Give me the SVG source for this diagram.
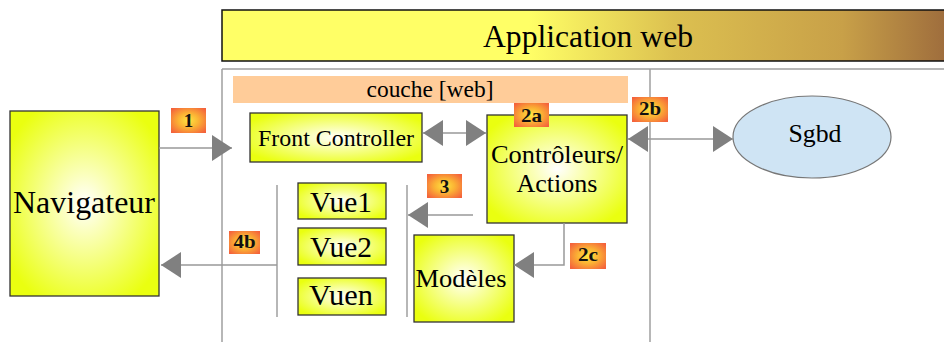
<svg xmlns="http://www.w3.org/2000/svg" width="944" height="342" viewBox="0 0 944 342">
<defs>
<radialGradient id="yel" cx="0.5" cy="0.5" r="0.6">
<stop offset="0" stop-color="#ffffff"/>
<stop offset="0.25" stop-color="#fbffc0"/>
<stop offset="1" stop-color="#eaff10"/>
</radialGradient>
<radialGradient id="org" cx="0.5" cy="0.5" r="0.65">
<stop offset="0" stop-color="#fee640"/>
<stop offset="0.45" stop-color="#fbb234"/>
<stop offset="1" stop-color="#f4623c"/>
</radialGradient>
<linearGradient id="title" x1="0" y1="0" x2="1" y2="0">
<stop offset="0" stop-color="#ffff66"/>
<stop offset="0.42" stop-color="#ffff66"/>
<stop offset="0.62" stop-color="#dcc050"/>
<stop offset="0.85" stop-color="#c8a048"/>
<stop offset="1" stop-color="#9c6a3c"/>
</linearGradient>
<marker id="ah" viewBox="0 0 20 26" refX="20" refY="13" markerWidth="20" markerHeight="26" markerUnits="userSpaceOnUse" orient="auto-start-reverse">
<path d="M0,0 L20,13 L0,26 Z" fill="#808080"/>
</marker>
<style>
.box{fill:url(#yel);stroke:#333;stroke-width:1.3}
.badge{fill:url(#org)}
text{font-family:"Liberation Serif","DejaVu Serif",serif}
.bt{fill:#111;text-anchor:middle}
.t{fill:#000;text-anchor:middle}
.ln{stroke:#a0a0a0;stroke-width:1.5;fill:none}
.cn{stroke:#999;stroke-width:1.5;fill:none}
</style>
</defs>
<rect width="944" height="342" fill="#fff"/>
<g id="title-bar">
<rect x="222" y="10" width="730" height="51" fill="url(#title)" stroke="#111" stroke-width="1.5"/>
<text class="t" x="588" y="47" font-size="32" textLength="210" lengthAdjust="spacingAndGlyphs">Application web</text>
</g>
<g id="frame">
<path class="ln" d="M222,69 H944 M222,69 V342 M650,69 V342"/>
<path class="ln" d="M277,185 V317 M407,185 V317"/>
</g>
<g id="couche">
<rect x="233" y="76" width="395" height="27" fill="#ffcc99"/>
<text class="t" x="430" y="97" font-size="23" textLength="127" lengthAdjust="spacingAndGlyphs">couche [web]</text>
</g>
<g id="navigateur">
<rect class="box" x="10" y="111" width="149" height="185"/>
<text class="t" x="84" y="213" font-size="32" textLength="142" lengthAdjust="spacingAndGlyphs">Navigateur</text>
</g>
<g id="front-controller">
<rect class="box" x="250" y="113" width="172" height="49"/>
<text class="t" x="336" y="146" font-size="24" textLength="156" lengthAdjust="spacingAndGlyphs">Front Controller</text>
</g>
<g id="controleurs">
<rect class="box" x="487" y="115" width="140" height="108"/>
<text class="t" x="557" y="163" font-size="26" textLength="132" lengthAdjust="spacingAndGlyphs">Contrôleurs/</text>
<text class="t" x="557" y="192" font-size="26" textLength="81" lengthAdjust="spacingAndGlyphs">Actions</text>
</g>
<g id="sgbd">
<ellipse cx="812" cy="137" rx="79" ry="41" fill="#cfe4f4" stroke="#777" stroke-width="1.2"/>
<text class="t" x="815" y="142" font-size="26" textLength="53" lengthAdjust="spacingAndGlyphs">Sgbd</text>
</g>
<g id="vue1">
<rect class="box" x="298" y="183" width="88" height="36"/>
<text class="t" x="341" y="212" font-size="29" textLength="62" lengthAdjust="spacingAndGlyphs">Vue1</text>
</g>
<g id="vue2">
<rect class="box" x="298" y="228" width="88" height="37"/>
<text class="t" x="341" y="257" font-size="29" textLength="62" lengthAdjust="spacingAndGlyphs">Vue2</text>
</g>
<g id="vuen">
<rect class="box" x="298" y="278" width="88" height="37"/>
<text class="t" x="341" y="305" font-size="29" textLength="64" lengthAdjust="spacingAndGlyphs">Vuen</text>
</g>
<g id="modeles">
<rect class="box" x="414" y="235" width="100" height="87"/>
<text class="t" x="461" y="287" font-size="26" textLength="91" lengthAdjust="spacingAndGlyphs">Modèles</text>
</g>
<g id="connectors">
<path class="cn" d="M159,148 H232" marker-end="url(#ah)"/>
<path class="cn" d="M423,133 H486" marker-start="url(#ah)" marker-end="url(#ah)"/>
<path class="cn" d="M628,139 H733" marker-start="url(#ah)" marker-end="url(#ah)"/>
<path class="cn" d="M473,215 H408" marker-end="url(#ah)"/>
<path class="cn" d="M564,223 V265 H514" marker-end="url(#ah)"/>
<path class="cn" d="M277,265 H161" marker-end="url(#ah)"/>
</g>
<g id="badges" font-size="19" font-weight="bold">
<g id="b1"><rect class="badge" x="171" y="108" width="35" height="25"/><text class="bt" x="188.5" y="127" font-size="19" font-weight="bold">1</text></g>
<g id="b2a"><rect class="badge" x="514" y="103" width="35" height="24"/><text class="bt" x="531.5" y="122" font-size="19" font-weight="bold" textLength="21" lengthAdjust="spacingAndGlyphs">2a</text></g>
<g id="b2b"><rect class="badge" x="632" y="97" width="36" height="25"/><text class="bt" x="650" y="115" font-size="19" font-weight="bold" textLength="22" lengthAdjust="spacingAndGlyphs">2b</text></g>
<g id="b3"><rect class="badge" x="427" y="174" width="35" height="24"/><text class="bt" x="444.5" y="193" font-size="19" font-weight="bold">3</text></g>
<g id="b2c"><rect class="badge" x="570" y="243" width="36" height="26"/><text class="bt" x="588" y="261" font-size="19" font-weight="bold" textLength="20" lengthAdjust="spacingAndGlyphs">2c</text></g>
<g id="b4b"><rect class="badge" x="229" y="231" width="31" height="23"/><text class="bt" x="244.5" y="248" font-size="19" font-weight="bold" textLength="22" lengthAdjust="spacingAndGlyphs">4b</text></g>
</g>
</svg>
